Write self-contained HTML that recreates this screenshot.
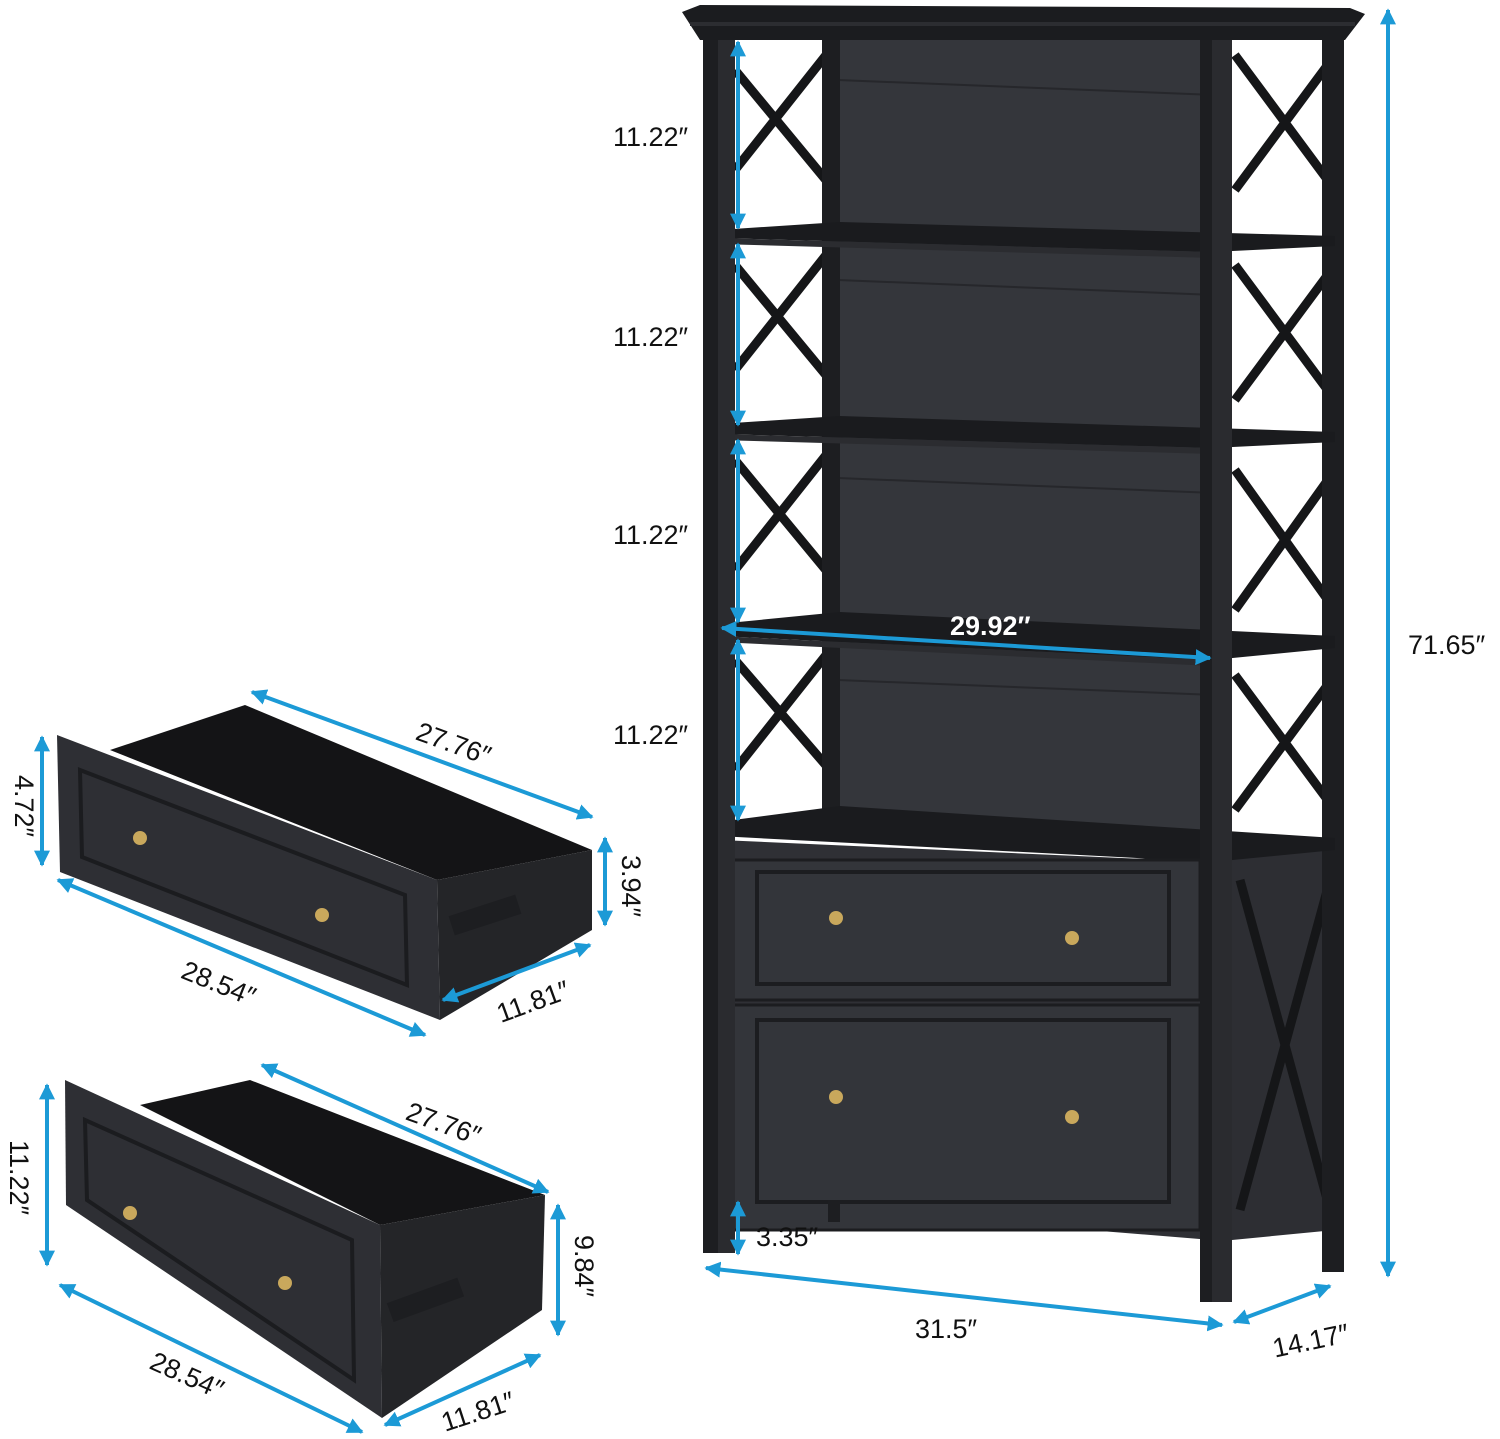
<!DOCTYPE html>
<html><head><meta charset="utf-8"><style>
html,body{margin:0;padding:0;background:#fff}
svg{display:block}
text{font-family:"Liberation Sans",sans-serif;font-size:27px;fill:#111}
</style></head><body>
<svg width="1500" height="1439" viewBox="0 0 1500 1439" xmlns="http://www.w3.org/2000/svg">
<defs>
<marker id="a" viewBox="0 0 10 10" refX="9" refY="5" markerWidth="4" markerHeight="4" orient="auto-start-reverse"><path d="M0,0L10,5L0,10z" fill="#1c9ad6"/></marker>
</defs>
<!-- ===== Bookshelf ===== -->
<!-- back panel -->
<rect x="825" y="40" width="395" height="800" fill="#34363b"/>
<g stroke="#26272b" stroke-width="2"><line x1="838" y1="80" x2="1215" y2="95"/><line x1="838" y1="280" x2="1215" y2="295"/><line x1="838" y1="478" x2="1215" y2="493"/><line x1="838" y1="680" x2="1215" y2="695"/></g>
<!-- left X braces -->
<g stroke="#151618" stroke-width="9" fill="none">
<path d="M735,70L830,185M830,50L735,170"/>
<path d="M735,265L830,380M830,250L735,370"/>
<path d="M735,460L830,575M830,450L735,570"/>
<path d="M735,660L830,770M830,650L735,770"/>
<path d="M1235,55L1335,190M1335,55L1235,190"/>
<path d="M1235,265L1335,400M1335,265L1235,400"/>
<path d="M1235,470L1335,610M1335,470L1235,610"/>
<path d="M1235,675L1335,810M1335,675L1235,810"/>
<path d="M1235,880L1335,1210M1335,880L1235,1210"/>
</g>
<!-- right side lower panel -->
<polygon points="1232,850 1335,845 1335,1230 1232,1240" fill="#2d2e33"/>
<g stroke="#151618" stroke-width="9" fill="none"><path d="M1240,880L1330,1210M1330,880L1240,1210"/></g>
<!-- back posts -->
<rect x="822" y="40" width="18" height="790" fill="#1d1e21"/>
<rect x="1322" y="40" width="22" height="1232" fill="#1d1e21"/>
<!-- shelves -->
<g fill="#1a1b1e">
<polygon points="718,230 840,222 1335,236 1335,246 1212,252 718,238"/>
<polygon points="718,424 840,416 1335,432 1335,442 1212,448 718,434"/>
<polygon points="718,624 840,612 1335,636 1335,648 1212,660 718,636"/>
<polygon points="718,822 840,806 1335,838 1335,850 1212,862 718,836"/>
</g>
<g fill="#2b2c30"><polygon points="718,238 1212,252 1212,258 718,244"/><polygon points="718,434 1212,448 1212,454 718,440"/><polygon points="718,636 1212,660 1212,666 718,642"/></g>
<!-- cabinet -->
<polygon points="720,840 1212,862 1212,1240 720,1200" fill="#2f3035"/>
<rect x="728" y="860" width="472" height="140" fill="#33353a" stroke="#1c1d20" stroke-width="3" transform="skewY(0)"/>
<rect x="757" y="872" width="412" height="112" fill="none" stroke="#1c1d20" stroke-width="4"/>
<rect x="728" y="1005" width="472" height="225" fill="#33353a" stroke="#1c1d20" stroke-width="3"/>
<rect x="757" y="1020" width="412" height="182" fill="none" stroke="#1c1d20" stroke-width="4"/>
<g fill="#c9a85c"><circle cx="836" cy="918" r="7"/><circle cx="1072" cy="938" r="7"/><circle cx="836" cy="1097" r="7"/><circle cx="1072" cy="1117" r="7"/></g>
<!-- front posts -->
<rect x="703" y="38" width="32" height="1215" fill="#1d1e21"/>
<rect x="718" y="38" width="17" height="1215" fill="#2a2b2f"/>
<rect x="1200" y="40" width="32" height="1262" fill="#1d1e21"/>
<rect x="1212" y="40" width="20" height="1262" fill="#2a2b2f"/>
<rect x="828" y="1200" width="12" height="22" fill="#1d1e21"/>
<!-- crown -->
<polygon points="682,12 700,5 1350,8 1365,14 1345,40 700,40" fill="#1b1c1f"/>
<rect x="690" y="22" width="665" height="4" fill="#2c2d31"/>
<!-- dims shelf -->
<g stroke="#1c9ad6" stroke-width="4" fill="none" marker-start="url(#a)" marker-end="url(#a)">
<line x1="738" y1="42" x2="738" y2="228"/>
<line x1="738" y1="244" x2="738" y2="425"/>
<line x1="738" y1="440" x2="738" y2="622"/>
<line x1="738" y1="640" x2="738" y2="820"/>
<line x1="722" y1="628" x2="1210" y2="658"/>
<line x1="1388" y1="10" x2="1388" y2="1276"/>
<line x1="738" y1="1202" x2="738" y2="1254"/>
<line x1="706" y1="1268" x2="1222" y2="1325"/>
<line x1="1234" y1="1322" x2="1330" y2="1286"/>
</g>
<text x="613" y="146">11.22″</text>
<text x="613" y="346">11.22″</text>
<text x="613" y="544">11.22″</text>
<text x="613" y="744">11.22″</text>
<text x="950" y="635" style="fill:#fff;font-weight:bold">29.92″</text>
<text x="1408" y="654">71.65″</text>
<text x="756" y="1246">3.35″</text>
<text x="915" y="1338">31.5″</text>
<text x="1272" y="1350" transform="rotate(-12 1310 1340)">14.17″</text>
<!-- ===== Drawer 1 ===== -->
<polygon points="110,750 245,705 592,850 437,880" fill="#141416"/>
<polygon points="437,880 592,850 592,930 440,1020" fill="#242528"/>
<polygon points="57,735 437,880 440,1020 60,872" fill="#2e2f34"/>
<polygon points="80,770 405,895 407,985 82,857" fill="none" stroke="#1b1c1f" stroke-width="4"/>
<rect x="450" y="905" width="70" height="20" fill="#1d1e21" transform="rotate(-18 485 915)"/>
<g fill="#c9a85c"><circle cx="140" cy="838" r="7"/><circle cx="322" cy="915" r="7"/></g>
<!-- ===== Drawer 2 ===== -->
<polygon points="140,1105 250,1080 545,1195 380,1225" fill="#141416"/>
<polygon points="380,1225 545,1195 542,1310 382,1418" fill="#242528"/>
<polygon points="65,1080 380,1225 382,1418 66,1205" fill="#2e2f34"/>
<polygon points="85,1120 352,1240 354,1380 87,1200" fill="none" stroke="#1b1c1f" stroke-width="4"/>
<rect x="388" y="1290" width="75" height="20" fill="#1d1e21" transform="rotate(-20 425 1300)"/>
<g fill="#c9a85c"><circle cx="130" cy="1213" r="7"/><circle cx="285" cy="1283" r="7"/></g>
<!-- drawer dims -->
<g stroke="#1c9ad6" stroke-width="4" fill="none" marker-start="url(#a)" marker-end="url(#a)">
<line x1="252" y1="692" x2="592" y2="817"/>
<line x1="42" y1="737" x2="42" y2="865"/>
<line x1="605" y1="838" x2="605" y2="925"/>
<line x1="58" y1="880" x2="425" y2="1035"/>
<line x1="443" y1="1000" x2="590" y2="945"/>
<line x1="262" y1="1065" x2="548" y2="1192"/>
<line x1="47" y1="1085" x2="47" y2="1265"/>
<line x1="558" y1="1205" x2="558" y2="1335"/>
<line x1="60" y1="1285" x2="362" y2="1432"/>
<line x1="385" y1="1425" x2="540" y2="1355"/>
</g>
<text x="415" y="755" transform="rotate(20 460 745)">27.76″</text>
<text x="0" y="810" transform="rotate(90 25 800)">4.72″</text>
<text x="600" y="893" transform="rotate(90 630 885)">3.94″</text>
<text x="180" y="995" transform="rotate(22 225 985)">28.54″</text>
<text x="495" y="1010" transform="rotate(-20 535 1000)">11.81″</text>
<text x="405" y="1135" transform="rotate(20 450 1125)">27.76″</text>
<text x="-10" y="1180" transform="rotate(90 20 1170)">11.22″</text>
<text x="545" y="1285" transform="rotate(90 585 1275)">9.84″</text>
<text x="148" y="1388" transform="rotate(24 195 1378)">28.54″</text>
<text x="440" y="1420" transform="rotate(-18 480 1410)">11.81″</text>
</svg>
</body></html>
